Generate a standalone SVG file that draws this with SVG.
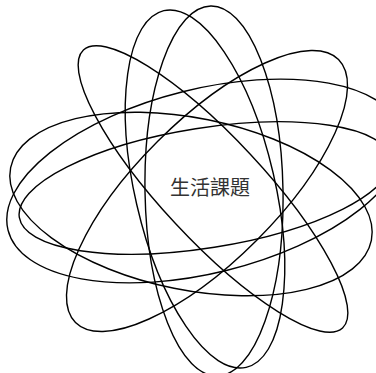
<svg xmlns="http://www.w3.org/2000/svg" width="376" height="373" viewBox="0 0 376 373">
<style>
.e{fill:none;stroke:#000;stroke-width:1.4}
.t{font-family:"Noto Sans CJK TC","Noto Sans CJK JP",sans-serif;font-size:20px;fill:#333}
</style>
<rect width="376" height="373" fill="#fff"/>
<g id="orbits">
<ellipse id="T1" class="e" cx="205" cy="189" rx="70" ry="183" transform="rotate(-13 205 189)"/>
<ellipse id="T2" class="e" cx="214" cy="191" rx="69" ry="185" transform="rotate(-1 214 191)"/>
<ellipse id="D1" class="e" cx="207" cy="191" rx="186" ry="70" transform="rotate(-45 207 191)"/>
<ellipse id="D2" class="e" cx="213" cy="189" rx="190" ry="51" transform="rotate(47 213 189)"/>
<ellipse id="H1" class="e" cx="191" cy="204" rx="184" ry="86" transform="rotate(11.4 191 204)"/>
<ellipse id="H2" class="e" cx="205" cy="188" rx="188" ry="60" transform="rotate(-9 205 188)"/>
<ellipse id="H3" class="e" cx="205" cy="181" rx="203" ry="92" transform="rotate(-14 205 181)"/>
</g>
<g id="center">
<text class="t" x="210" y="195" text-anchor="middle">生活課題</text>
</g>
</svg>
